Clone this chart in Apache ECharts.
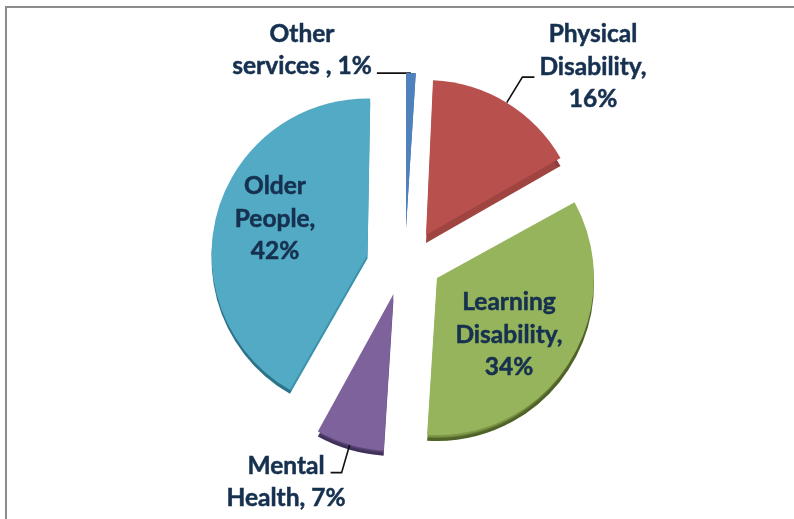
<!DOCTYPE html>
<html>
<head>
<meta charset="utf-8">
<style>
html,body{margin:0;padding:0;background:#fff}
#chart{width:794px;height:519px}
</style>
<script src="https://cdn.jsdelivr.net/npm/echarts@6/dist/echarts.min.js"></script>
</head>
<body>
<div id="chart"></div>
<script>
// Share of services, in clockwise order from twelve o'clock
const names = ['Other\nservices ,', 'Physical\nDisability,', 'Learning\nDisability,', 'Mental\nHealth,', 'Older\nPeople,'];
const shares = [1, 16, 34, 7, 42];
const valueBreaks = [' ', '\n', '\n', ' ', '\n'];

// Drawing style of each exploded slice
const topColors = ['#4f81bd', '#b8504d', '#96b45b', '#7e629c', '#52aac5'];
const edgeColors = ['#3f6ea6', '#a04441', '#7e9a48', '#5f4a7c', '#3b92aa'];
const rimColors = ['#2f5487', '#8f3b38', '#4f6228', '#40315a', '#2c7388'];
const centers = [[406, 228], [426, 235], [437, 278], [393.5, 294], [367.5, 254.5]];
const radii = [155, 155, 157, 157, 156];
const depths = [0, 8, 6, 5, 4];
const startAngles = [90, 91, 90, 90, 89];
const labelAnchors = [[302, 50], [593, 67], [509, 335], [286, 482], [275, 219]];
const labelSides = ['outside', 'outside', 'inside', 'outside', 'inside'];
const leaderLengths = [[0, 34], [30, 12], [0, 0], [29, 11], [0, 0]];
const leaderDirections = [-1, 1, 0, -1, 0];

const chart = echarts.init(document.getElementById('chart'), null, { renderer: 'canvas' });

function sliceData(active, styleFor) {
  return shares.map((value, i) => ({
    name: names[i],
    value,
    itemStyle: i === active ? styleFor(i) : { color: 'rgba(0,0,0,0)' },
    label: { show: false },
    labelLine: { show: false }
  }));
}

const series = [];
shares.forEach((_, k) => {
  const [cx, cy] = centers[k];
  const r = radii[k];
  // Extruded side: radial face fades into the darker outer wall
  series.push({
    type: 'pie',
    silent: true,
    z: 1,
    animation: false,
    startAngle: startAngles[k],
    clockwise: true,
    radius: [0, r],
    center: [cx, cy + depths[k]],
    data: sliceData(k, i => ({
      color: new echarts.graphic.RadialGradient(cx, cy + depths[k], r, [
        { offset: 0, color: edgeColors[i] },
        { offset: 0.97, color: edgeColors[i] },
        { offset: 0.985, color: rimColors[i] },
        { offset: 1, color: rimColors[i] }
      ], true)
    }))
  });
  // Top face with its label and leader line
  const data = sliceData(k, i => ({ color: topColors[i] }));
  data[k].label = {
    show: true,
    position: labelSides[k],
    formatter: p => p.name + valueBreaks[k] + p.value + '%',
    fontFamily: 'Lato, "Open Sans", sans-serif',
    fontWeight: 'bold',
    fontSize: 24.5,
    lineHeight: 32.5,
    color: '#16304f',
    textBorderColor: '#16304f',
    textBorderWidth: 0.5,
    align: 'center'
  };
  data[k].labelLine = {
    show: labelSides[k] === 'outside',
    length: leaderLengths[k][0],
    length2: leaderLengths[k][1],
    lineStyle: { color: '#111', width: 1.6 }
  };
  series.push({
    type: 'pie',
    silent: true,
    z: 2,
    animation: false,
    startAngle: startAngles[k],
    clockwise: true,
    radius: [0, r],
    center: [cx, cy],
    avoidLabelOverlap: false,
    labelLayout: p => {
      if (p.dataIndex !== k) return {};
      const points = p.labelLinePoints;
      if (points && leaderDirections[k]) {
        points[2][0] = points[1][0] + leaderDirections[k] * leaderLengths[k][1];
        points[2][1] = points[1][1];
      }
      return {
        x: labelAnchors[k][0],
        y: labelAnchors[k][1],
        align: 'center',
        verticalAlign: 'middle',
        labelLinePoints: points
      };
    },
    data
  });
});

chart.setOption({
  backgroundColor: '#fff',
  animation: false,
  graphic: [{
    type: 'polyline',
    silent: true,
    z: 10,
    shape: { points: [[6, 519], [6, 7], [794, 7]] },
    style: { fill: 'none', stroke: '#8c8c8c', lineWidth: 2 }
  }],
  series
});
</script>
</body>
</html>
